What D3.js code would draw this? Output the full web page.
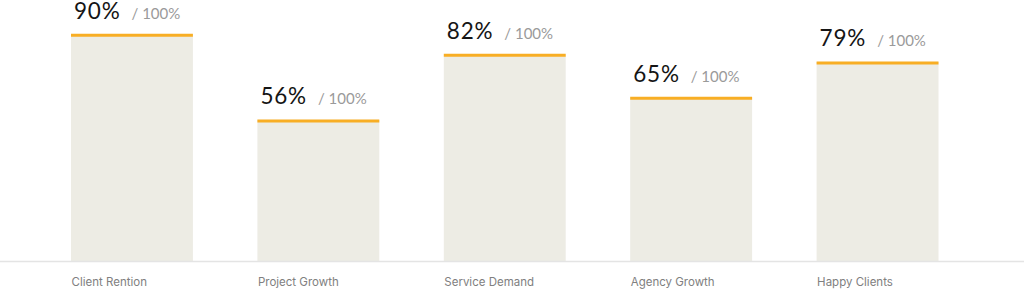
<!DOCTYPE html>
<html>
<head>
<meta charset="utf-8">
<script src="https://cdn.jsdelivr.net/npm/d3@7"></script>
<style>
  html, body { margin: 0; padding: 0; background: #ffffff; }
  svg { display: block; }
</style>
</head>
<body>
<svg id="chart" width="1024" height="289"></svg>
<script>
// Metrics shown as percentage bars
const categories = ["Client Rention", "Project Growth", "Service Demand", "Agency Growth", "Happy Clients"];
const values = [90, 56, 82, 65, 79];
const maxLabel = "/ 100%";

const svg = d3.select("#chart");
const W = 1024, H = 289;
const baseY = 261;

const x = d3.scaleBand()
  .domain(categories)
  .range([71, 938.5])
  .paddingInner(0.346)
  .paddingOuter(0);

const y = d3.scaleLinear()
  .domain([0, 100])
  .range([baseY, baseY - 252]);

const data = categories.map((c, i) => ({ cat: c, val: values[i] }));

// Bars
svg.append("g").selectAll("rect")
  .data(data)
  .join("rect")
  .attr("x", d => x(d.cat))
  .attr("y", d => y(d.val))
  .attr("width", x.bandwidth())
  .attr("height", d => baseY - y(d.val))
  .attr("fill", "#edece4");

// Accent line on the top of each bar
svg.append("g").selectAll("line")
  .data(data)
  .join("line")
  .attr("x1", d => x(d.cat))
  .attr("x2", d => x(d.cat) + x.bandwidth())
  .attr("y1", d => y(d.val) + 1)
  .attr("y2", d => y(d.val) + 1)
  .attr("stroke", "#f8ae24")
  .attr("stroke-width", 3);

// Baseline across the full width
svg.append("line")
  .attr("x1", 0).attr("x2", W)
  .attr("y1", baseY + 0.5).attr("y2", baseY + 0.5)
  .attr("stroke", "#e4e4e4")
  .attr("stroke-width", 1.5);

// Category labels under the baseline
const xAxis = d3.axisBottom(x).tickSize(0).tickPadding(0);
const axisG = svg.append("g")
  .attr("transform", `translate(0,${baseY})`)
  .call(xAxis);
axisG.select(".domain").remove();
axisG.selectAll(".tick text")
  .attr("text-anchor", "start")
  .attr("x", -x.bandwidth() / 2 + 0.5)
  .attr("y", 24.5)
  .attr("dy", 0)
  .attr("font-family", "Inter, sans-serif")
  .attr("font-size", 11.5)
  .attr("fill", "#808080");

// Value labels above each bar
const labels = svg.append("g").selectAll("g")
  .data(data)
  .join("g")
  .attr("transform", d => `translate(${x(d.cat) + 3},${y(d.val) - 15.5})`);

labels.append("text")
  .attr("class", "val")
  .attr("font-family", "Lato, sans-serif")
  .attr("font-size", 22.5)
  .attr("letter-spacing", 0.8)
  .attr("fill", "#151515")
  .text(d => d.val + "%");

labels.each(function() {
  const g = d3.select(this);
  const w = g.select("text.val").node().getComputedTextLength();
  g.append("text")
    .attr("x", w + 11)
    .attr("font-family", "Lato, sans-serif")
    .attr("font-size", 15)
    .attr("fill", "#9a9a9a")
    .text(maxLabel);
});
</script>
</body>
</html>
